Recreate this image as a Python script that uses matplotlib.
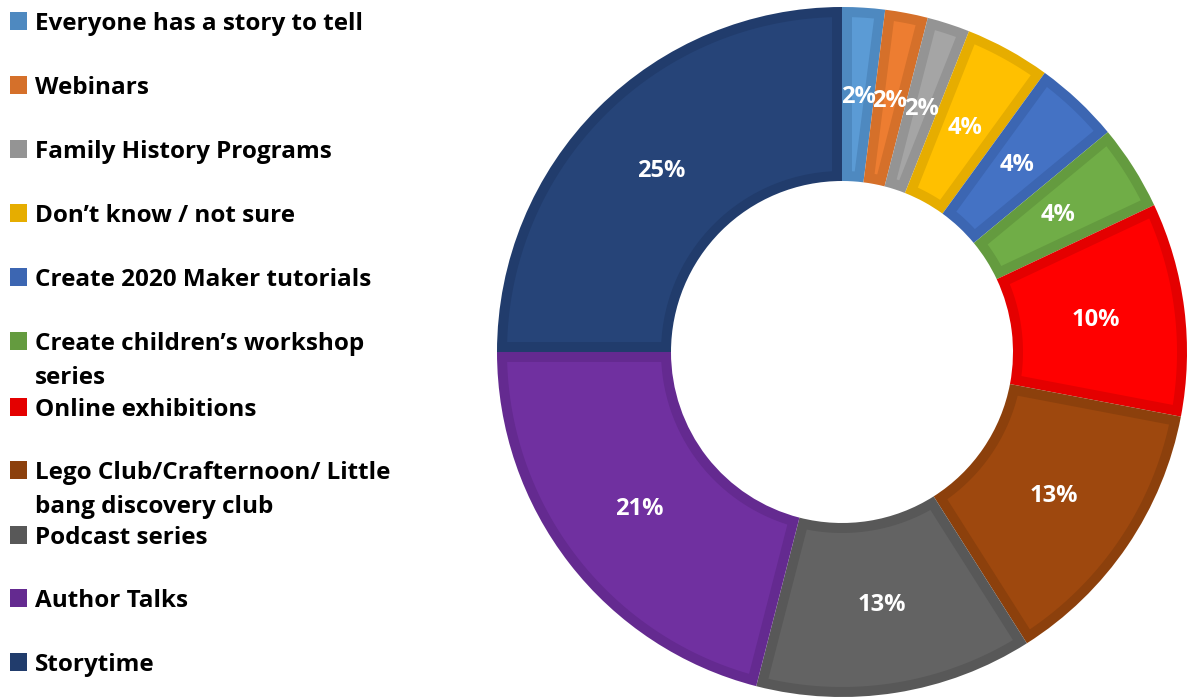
import matplotlib.pyplot as plt
import numpy as np
from matplotlib.patches import Polygon

labels = [
    "Everyone has a story to tell",
    "Webinars",
    "Family History Programs",
    "Don\u2019t know / not sure",
    "Create 2020 Maker tutorials",
    "Create children\u2019s workshop\nseries",
    "Online exhibitions",
    "Lego Club/Crafternoon/ Little\nbang discovery club",
    "Podcast series",
    "Author Talks",
    "Storytime",
]
values = [2, 2, 2, 4, 4, 4, 10, 13, 13, 21, 25]
fills = ["#5B9BD5", "#ED7D31", "#A5A5A5", "#FFC000", "#4472C4", "#70AD47",
         "#FF0000", "#9E480E", "#636363", "#7030A0", "#264478"]
edges = ["#4E89C0", "#D5702A", "#949494", "#E6AD00", "#3C66B2", "#649B3F",
         "#E40000", "#8C400C", "#585858", "#642A90", "#213C6C"]

W, H = 1196, 699
fig = plt.figure(figsize=(W / 100, H / 100), dpi=100)
ax = fig.add_axes([0, 0, 1, 1])
ax.set_aspect("equal")
ax.axis("off")

# ring geometry in pixels
cx, cy, R = 842, H - 352, 345
ring = 174
rin = R - ring
d = 10  # border thickness

# slices drawn in the darker border colour
wedges, _ = ax.pie(values, startangle=90, counterclock=False, radius=R,
                   center=(cx, cy), colors=edges,
                   wedgeprops=dict(width=ring, linewidth=0))
ax.set_xlim(0, W)
ax.set_ylim(0, H)


def inset_poly(t1, t2):
    """Slice shape shrunk by d pixels on every side."""
    a1, a2 = np.deg2rad(t1), np.deg2rad(t2)
    span = a2 - a1
    ro = R - d
    ri = max(rin + d, d / np.sin(span / 2) + 0.5)
    pts = []
    off_o = np.arcsin(d / ro)
    for t in np.linspace(a1 + off_o, a2 - off_o, 60):
        pts.append((cx + ro * np.cos(t), cy + ro * np.sin(t)))
    off_i = np.arcsin(min(d / ri, 1))
    lo, hi = a1 + off_i, a2 - off_i
    if hi < lo:
        lo = hi = (a1 + a2) / 2
    for t in np.linspace(hi, lo, 30):
        pts.append((cx + ri * np.cos(t), cy + ri * np.sin(t)))
    return pts


for w, fc in zip(wedges, fills):
    ax.add_patch(Polygon(inset_poly(w.theta1, w.theta2), closed=True,
                         facecolor=fc, lw=0))

font = "Open Sans"

# percentage labels in middle of the ring
total = sum(values)
for w, v in zip(wedges, values):
    mid = np.deg2rad((w.theta1 + w.theta2) / 2)
    rr = R - ring / 2 - 2
    ax.text(cx + rr * np.cos(mid), cy + rr * np.sin(mid), f"{round(100 * v / total)}%",
            color="white", fontsize=17, fontweight="bold", family=font,
            ha="center", va="center")

# legend drawn by hand (handles sit on first line of each label)
baselines = [30, 94, 158, 222, 286, 350, 416, 479, 544, 607, 671]
for lab, col, b in zip(labels, edges, baselines):
    yy = H - b
    ax.add_patch(plt.Rectangle((10, yy), 17, 18, color=col, lw=0))
    for k, line in enumerate(lab.split("\n")):
        ax.text(35, yy - 34 * k, line, fontsize=17.5, fontweight="bold", family=font,
                ha="left", va="baseline", color="black")

fig.savefig("out.png", dpi=100)
